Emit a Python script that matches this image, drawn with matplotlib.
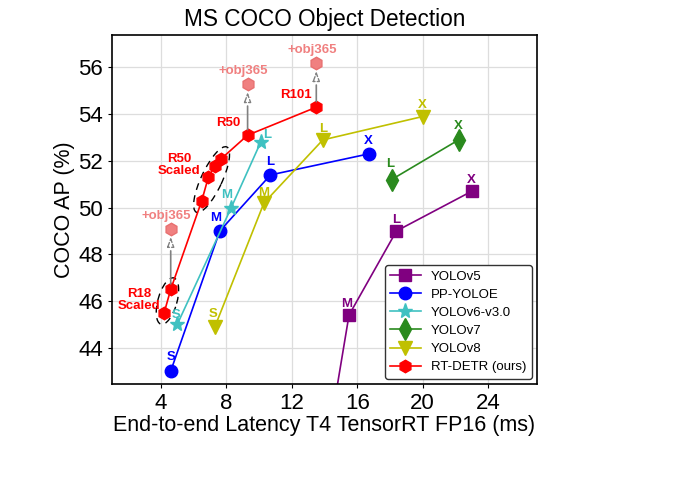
import matplotlib
matplotlib.use("Agg")
import matplotlib.pyplot as plt
import matplotlib.transforms as mtransforms
from matplotlib.patches import Ellipse
import numpy as np

plt.rcParams['font.family'] = ['Liberation Sans', 'DejaVu Sans']

# datos (latencia ms, AP)
v5_lat = [13.6, 15.5, 18.4, 23.0]
v5_ap = [37.4, 45.4, 49.0, 50.7]
v5_tags = ["S", "M", "L", "X"]

pp_lat = [4.6, 7.6, 10.7, 16.7]
pp_ap = [43.0, 49.0, 51.4, 52.3]
pp_tags = ["S", "M", "L", "X"]

v6_lat = [5.0, 8.3, 10.1]
v6_ap = [45.0, 50.0, 52.8]
v6_tags = ["S", "M", "L"]

v7_lat = [18.1, 22.2]
v7_ap = [51.2, 52.9]
v7_tags = ["L", "X"]

v8_lat = [7.3, 10.3, 13.9, 20.0]
v8_ap = [44.9, 50.2, 52.9, 53.9]
v8_tags = ["S", "M", "L", "X"]

rt_lat = [4.2, 4.6, 6.5, 6.9, 7.3, 7.7, 9.3, 13.5]
rt_ap = [45.5, 46.5, 50.3, 51.3, 51.8, 52.1, 53.1, 54.3]

obj_lat = [4.6, 9.3, 13.5]
obj_ap = [49.1, 55.3, 56.2]
obj_base = [1, 6, 7]  # indice del punto rojo de partida

fig = plt.figure(figsize=(6.86, 4.83), dpi=100)
ax = fig.add_axes([0.163, 0.205, 0.62, 0.723])

ax.plot(v5_lat, v5_ap, color="purple", marker="s", ms=8, lw=1.2, label="YOLOv5")
ax.plot(pp_lat, pp_ap, color="blue", marker="o", ms=9, lw=1.2, label="PP-YOLOE")
ax.plot(v6_lat, v6_ap, color="#3fc1c1", marker="*", ms=11, lw=1.2, label="YOLOv6-v3.0")
ax.plot(v7_lat, v7_ap, color="#2a8a1e", marker="d", ms=11, lw=1.2, label="YOLOv7")
ax.plot(v8_lat, v8_ap, color="#c0c000", marker="v", ms=10, lw=1.2, label="YOLOv8")
ax.plot(rt_lat, rt_ap, color="red", marker="h", ms=9, lw=1.2, label="RT-DETR (ours)")

# flechas +obj365
for i in range(len(obj_lat)):
    b = obj_base[i]
    ax.annotate("", xy=(obj_lat[i], obj_ap[i]), xytext=(rt_lat[b], rt_ap[b]),
                arrowprops=dict(arrowstyle="-", color="gray", lw=1.2,
                                shrinkA=4, shrinkB=16))
    ax.annotate("", xy=(obj_lat[i], obj_ap[i]), xytext=(obj_lat[i], obj_ap[i] - 0.6),
                arrowprops=dict(arrowstyle="-|>,head_length=0.6,head_width=0.22",
                                fc="white", ec="gray", lw=1, ls="--",
                                shrinkA=0, shrinkB=6))
ax.plot(obj_lat, obj_ap, ls="none", marker="h", ms=9, color="#f08080", mec="#e87070")
for i in range(len(obj_lat)):
    ax.annotate("+obj365", (obj_lat[i], obj_ap[i]), xytext=(-3, 9),
                textcoords="offset points", ha="center", va="center",
                color="#f08080", fontsize=9.5, fontweight="bold")

def tags(xs, ys, names, color, offs):
    for x, y, n, o in zip(xs, ys, names, offs):
        ax.annotate(n, (x, y), xytext=o, textcoords="offset points",
                    ha="center", va="center", color=color,
                    fontsize=9.5, fontweight="bold")

tags(v5_lat[1:], v5_ap[1:], v5_tags[1:], "purple", [(-2, 8), (0, 8), (0, 8)])
tags(pp_lat, pp_ap, pp_tags, "blue", [(0, 10), (-3, 9), (0, 9), (0, 9)])
tags(v6_lat, v6_ap, v6_tags, "#3fc1c1", [(-1, 7), (-3, 9), (5, 5)])
tags(v7_lat, v7_ap, v7_tags, "#2a8a1e", [(-1, 11), (0, 10)])
tags(v8_lat, v8_ap, v8_tags, "#c0c000", [(-1, 9), (0, 7), (0, 8), (0, 8)])

ax.annotate("R50", (rt_lat[6], rt_ap[6]), xytext=(-5, 9), textcoords="offset points",
            ha="right", va="center", color="red", fontsize=9.5, fontweight="bold")
ax.annotate("R101", (rt_lat[7], rt_ap[7]), xytext=(-3, 9), textcoords="offset points",
            ha="right", va="center", color="red", fontsize=9.5, fontweight="bold")
ax.annotate("R50\nScaled", (rt_lat[3], rt_ap[3]), xytext=(-21, 9), textcoords="offset points",
            ha="center", va="center", color="red", fontsize=9.5, fontweight="bold",
            linespacing=0.95)
ax.annotate("R18\nScaled", (rt_lat[0], rt_ap[0]), xytext=(-18, 9), textcoords="offset points",
            ha="center", va="center", color="red", fontsize=9.5, fontweight="bold",
            linespacing=0.95)

ax.set_xlim(1, 27)
ax.set_ylim(42.45, 57.4)
ax.set_xticks([4, 8, 12, 16, 20, 24])
ax.set_yticks([44, 46, 48, 50, 52, 54, 56])
ax.tick_params(labelsize=16, length=3)
ax.grid(True, color="#dddddd", lw=0.9)
ax.set_axisbelow(True)
for s in ax.spines.values():
    s.set_linewidth(1.2)

# elipses punteadas alrededor de los modelos escalados
def ring(i0, i1, w, h):
    p0 = ax.transData.transform((rt_lat[i0], rt_ap[i0]))
    p1 = ax.transData.transform((rt_lat[i1], rt_ap[i1]))
    ang = np.degrees(np.arctan2(p1[1] - p0[1], p1[0] - p0[0]))
    cx = (rt_lat[i0] + rt_lat[i1]) / 2
    cy = (rt_ap[i0] + rt_ap[i1]) / 2
    tr = fig.dpi_scale_trans + mtransforms.ScaledTranslation(cx, cy, ax.transData)
    ax.add_patch(Ellipse((0, 0), w, h, angle=ang, transform=tr, fill=False,
                         ec="black", ls=(0, (5, 4)), lw=1))

ring(2, 5, 0.72, 0.21)
ring(0, 1, 0.48, 0.19)

ax.set_title("MS COCO Object Detection", fontsize=16.3, pad=6)
ax.set_xlabel("End-to-end Latency T4 TensorRT FP16 (ms)", fontsize=15.5, labelpad=1)
ax.set_ylabel("COCO AP (%)", fontsize=15.5, labelpad=2)

leg = ax.legend(loc="lower right", fontsize=9.5, handlelength=2.3,
                borderaxespad=0.4, framealpha=1, edgecolor="#333333",
                labelspacing=0.45)

plt.savefig("out.png", dpi=100)
